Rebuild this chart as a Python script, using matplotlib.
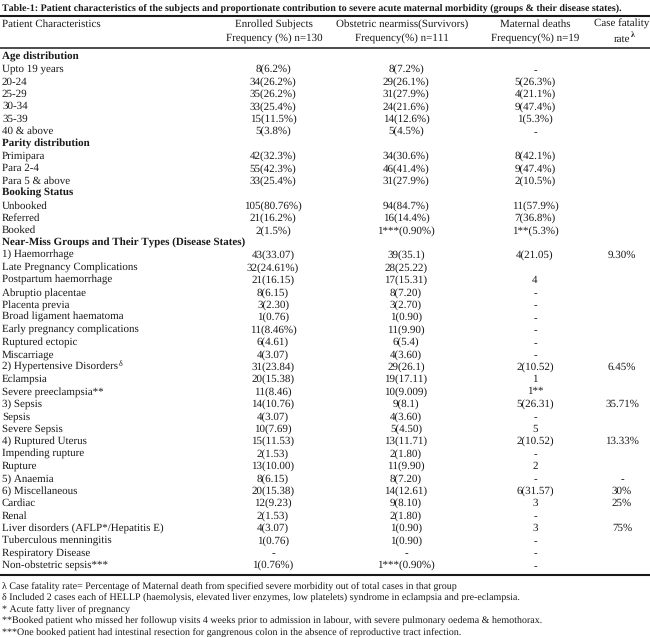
import matplotlib
matplotlib.use("Agg")
import matplotlib.pyplot as plt

plt.rcParams['font.family'] = ['Liberation Serif', 'DejaVu Serif']
plt.rcParams['text.hinting'] = 'no_hinting'
plt.rcParams['text.hinting_factor'] = 1

title = ("Table-1: Patient characteristics of the subjects and proportionate "
         "contribution to severe acute maternal morbidity (groups & their disease states).")

col_heads = [["Patient Characteristics", ""],
             ["Enrolled Subjects", "Frequency (%) n=130"],
             ["Obstetric nearmiss(Survivors)", "Frequency(%) n=111"],
             ["Maternal deaths", "Frequency(%) n=19"],
             ["Case fatality", "rate"]]

labels = ["Age distribution", "Upto 19 years", "20-24", "25-29", "30-34", "35-39", "40 & above",
          "Parity distribution", "Primipara", "Para 2-4", "Para 5 & above",
          "Booking Status", "Unbooked", "Referred", "Booked",
          "Near-Miss Groups and Their Types (Disease States)",
          "1) Haemorrhage", "Late Pregnancy Complications", "Postpartum haemorrhage",
          "Abruptio placentae", "Placenta previa", "Broad ligament haematoma",
          "Early pregnancy complications", "Ruptured ectopic", "Miscarriage",
          "2) Hypertensive Disorders", "Eclampsia", "Severe preeclampsia**",
          "3) Sepsis", "Sepsis", "Severe Sepsis",
          "4) Ruptured Uterus", "Impending rupture", "Rupture",
          "5) Anaemia", "6) Miscellaneous", "Cardiac", "Renal",
          "Liver disorders (AFLP*/Hepatitis E)", "Tuberculous menningitis",
          "Respiratory Disease", "Non-obstetric sepsis***"]

enrolled = ["", "8(6.2%)", "34(26.2%)", "35(26.2%)", "33(25.4%)", "15(11.5%)", "5(3.8%)",
            "", "42(32.3%)", "55(42.3%)", "33(25.4%)",
            "", "105(80.76%)", "21(16.2%)", "2(1.5%)",
            "",
            "43(33.07)", "32(24.61%)", "21(16.15)", "8(6.15)", "3(2.30)", "1(0.76)",
            "11(8.46%)", "6(4.61)", "4(3.07)",
            "31(23.84)", "20(15.38)", "11(8.46)",
            "14(10.76)", "4(3.07)", "10(7.69)",
            "15(11.53)", "2(1.53)", "13(10.00)",
            "8(6.15)", "20(15.38)", "12(9.23)", "2(1.53)",
            "4(3.07)", "1(0.76)", "-", "1(0.76%)"]

survivors = ["", "8(7.2%)", "29(26.1%)", "31(27.9%)", "24(21.6%)", "14(12.6%)", "5(4.5%)",
             "", "34(30.6%)", "46(41.4%)", "31(27.9%)",
             "", "94(84.7%)", "16(14.4%)", "1***(0.90%)",
             "",
             "39(35.1)", "28(25.22)", "17(15.31)", "8(7.20)", "3(2.70)", "1(0.90)",
             "11(9.90)", "6(5.4)", "4(3.60)",
             "29(26.1)", "19(17.11)", "10(9.009)",
             "9(8.1)", "4(3.60)", "5(4.50)",
             "13(11.71)", "2(1.80)", "11(9.90)",
             "8(7.20)", "14(12.61)", "9(8.10)", "2(1.80)",
             "1(0.90)", "1(0.90)", "-", "1***(0.90%)"]

deaths = ["", "-", "5(26.3%)", "4(21.1%)", "9(47.4%)", "1(5.3%)", "-",
          "", "8(42.1%)", "9(47.4%)", "2(10.5%)",
          "", "11(57.9%)", "7(36.8%)", "1**(5.3%)",
          "",
          "4(21.05)", "", "4", "-", "-", "-",
          "-", "-", "-",
          "2(10.52)", "1", "1**",
          "5(26.31)", "-", "5",
          "2(10.52)", "-", "2",
          "-", "6(31.57)", "3", "-",
          "3", "-", "-", "-"]

fatality = ["", "", "", "", "", "", "",
            "", "", "", "",
            "", "", "", "",
            "",
            "9.30%", "", "", "", "", "",
            "", "", "",
            "6.45%", "", "",
            "35.71%", "", "",
            "13.33%", "", "",
            "-", "30%", "25%", "",
            "75%", "", "", ""]

section_rows = ["Age distribution", "Parity distribution", "Booking Status",
                "Near-Miss Groups and Their Types (Disease States)"]

footnotes = ["\u03bb Case fatality rate= Percentage of Maternal death from specified severe morbidity out of total cases in that group",
             "\u03b4 Included 2 cases each of HELLP (haemolysis, elevated liver enzymes, low platelets) syndrome in eclampsia and pre-eclampsia.",
             "* Acute fatty liver of pregnancy",
             "**Booked patient who missed her followup visits 4 weeks prior to admission in labour, with severe pulmonary oedema & hemothorax.",
             "***One booked patient had intestinal resection for gangrenous colon in the absence of reproductive tract infection."]

W, H = 650, 637
fig = plt.figure(figsize=(W / 100, H / 100), dpi=100)
ax = fig.add_axes([0, 0, 1, 1])
ax.set_xlim(0, W)
ax.set_ylim(H, 0)
ax.axis('off')

col_x = [2, 273, 406, 535, 622]
head_x = [2, 274, 402, 535, 622]
fs = 7.8
ink = '#1a1a1a'
fig.canvas.draw()
renderer = fig.canvas.get_renderer()

def fit(txt, width):
    # shrink/grow a text until it spans the given pixel width
    bb = txt.get_window_extent(renderer)
    txt.set_fontsize(txt.get_fontsize() * width / bb.width)

t = ax.text(2, 8, title, fontsize=7, fontweight='bold', va='center', ha='left', color=ink)
fit(t, 641)

ax.plot([0, W], [16, 16], color=ink, lw=1.5, solid_capstyle='butt')
ax.plot([0, W], [48, 48], color=ink, lw=1.1, solid_capstyle='butt')
ax.plot([0, W], [575, 575], color=ink, lw=1.5, solid_capstyle='butt')

for i, (a, b) in enumerate(col_heads):
    ha = 'left' if i == 0 else 'center'
    ax.text(head_x[i], 24, a, fontsize=fs, ha=ha, va='center', color=ink)
    if b:
        tb = ax.text(head_x[i], 39, b, fontsize=fs, ha=ha, va='center', color=ink)
rb = tb.get_window_extent(renderer)
lam_x, _ = ax.transData.inverted().transform((rb.x1, rb.y1))
ax.text(lam_x + 0.5, 35.5, "\u03bb", fontsize=5.5, fontweight='bold', ha='left', va='center', color=ink)

y0, dy = 57, 12.4
for i, lab in enumerate(labels):
    y = y0 + i * dy
    bold = lab in section_rows
    tl = ax.text(col_x[0], y, lab, fontsize=fs + 0.2, ha='left', va='center', color=ink,
                 fontweight='bold' if bold else 'normal')
    if lab.startswith("2) Hypertensive"):
        bb = tl.get_window_extent(renderer)
        sx, _ = ax.transData.inverted().transform((bb.x1, bb.y1))
        ax.text(sx + 0.5, y - 3.5, "\u03b4", fontsize=5.5, ha='left', va='center', color=ink)
    for j, col in enumerate([enrolled, survivors, deaths, fatality], start=1):
        if col[i]:
            ax.text(col_x[j], y, col[i], fontsize=fs, ha='center', va='center', color=ink)

fy0, fdy = 586, 11.6
notes = [ax.text(2, fy0 + k * fdy, note, fontsize=6.0, ha='left', va='center', color=ink)
         for k, note in enumerate(footnotes)]
# the longest footnote sets the common size
bb = notes[3].get_window_extent(renderer)
nfs = 6.0 * 530 / bb.width
for n in notes:
    n.set_fontsize(nfs)

fig.savefig("out.png", dpi=100)
